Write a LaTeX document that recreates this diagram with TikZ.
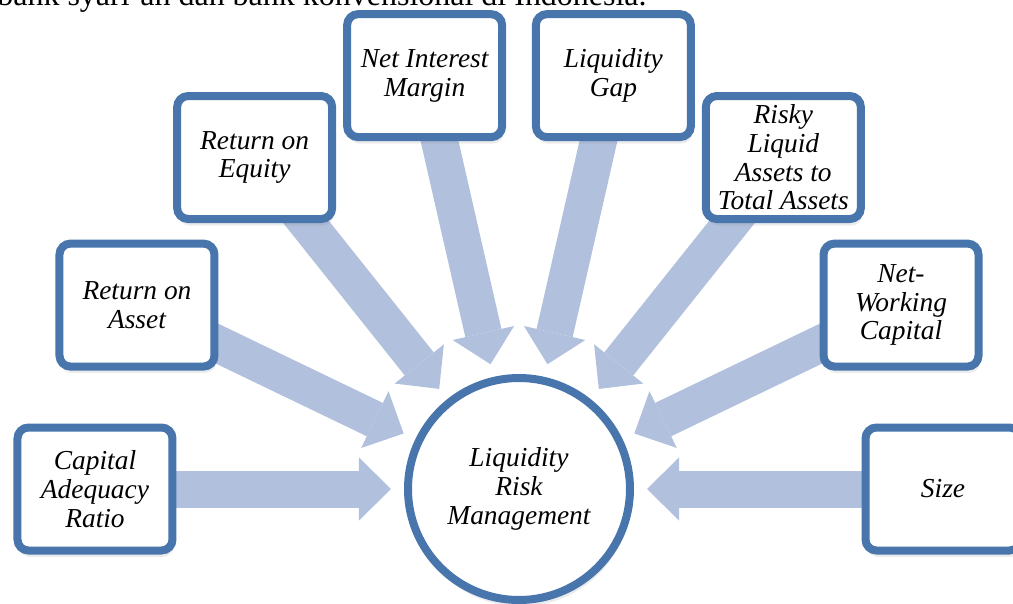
\documentclass[tikz,border=0pt]{standalone}
\usepackage{fontspec}
\setmainfont{Liberation Serif}
\usetikzlibrary{arrows.meta, shadows, backgrounds, calc}
\definecolor{borderblue}{RGB}{72,117,172}
\definecolor{arrowblue}{RGB}{176,192,221}

\begin{document}
\begin{tikzpicture}[factor/.style={rectangle, 
      rounded corners=0.22cm, 
      draw=borderblue, 
      line width=0.16cm, 
      fill=white, 
      minimum width=3.1cm, 
      minimum height=2.46cm, 
      inner sep=0pt, 
      align=center, 
      font=\itshape\fontsize{15.6}{16.3}\selectfont, 
      drop shadow={shadow xshift=0.03cm, shadow yshift=-0.13cm, opacity=0.15}},
    hub/.style={circle, 
      draw=borderblue, 
      line width=0.16cm, 
      fill=white, 
      minimum size=4.44cm, 
      inner sep=0pt, 
      align=center, 
      font=\itshape\fontsize{15.6}{16.3}\selectfont, 
      drop shadow={shadow xshift=0.03cm, shadow yshift=-0.13cm, opacity=0.15}},
    feed/.style={draw=arrowblue, 
      line width=0.74cm, 
      -{Triangle[width=1.26cm, length=0.64cm, line width=0pt]}, 
      shorten >=0.26cm}]
  \useasboundingbox (-10.38,-2.28) rectangle (9.88,9.78);

% CENTRE

  \node [hub] (lrm) at (0,0) {Liquidity\\Risk\\Management};

% FACTORS

  \node [factor] (car) at ($(lrm)+(180:8.48)$) {Capital\\Adequacy\\Ratio};
  \node [factor] (roa) at ($(lrm)+(154.29:8.48)$) {Return on\\Asset};
  \node [factor] (roe) at ($(lrm)+(128.57:8.48)$) {Return on\\Equity};
  \node [factor] (nim) at ($(lrm)+(102.86:8.48)$) {Net Interest\\Margin};
  \node [factor] (gap) at ($(lrm)+(77.14:8.48)$) {Liquidity\\Gap};
  \node [factor] (rlata) at ($(lrm)+(51.43:8.48)$) {Risky\\Liquid\\Assets to\\Total Assets};
  \node [factor] (nwc) at ($(lrm)+(25.71:8.48)$) {Net-\\Working\\Capital};
  \node [factor] (size) at ($(lrm)+(0:8.48)$) {Size};

  % ARROWS

  \begin{scope}[on background layer]
    \draw[feed] (car.center) -- (lrm);
    \draw[feed] (roa.center) -- (lrm);
    \draw[feed] (roe.center) -- (lrm);
    \draw[feed] (nim.center) -- (lrm);
    \draw[feed] (gap.center) -- (lrm);
    \draw[feed] (rlata.center) -- (lrm);
    \draw[feed] (nwc.center) -- (lrm);
    \draw[feed] (size.center) -- (lrm);
  \end{scope}

  % TEXT LINE ABOVE

  \node [anchor=base east, 
    inner sep=0pt, 
    font=\fontsize{18.2}{20}\selectfont] (textline) at (2.56,9.66) {bank syari'ah dan bank konvensional di Indonesia.};

\end{tikzpicture}
\end{document}
